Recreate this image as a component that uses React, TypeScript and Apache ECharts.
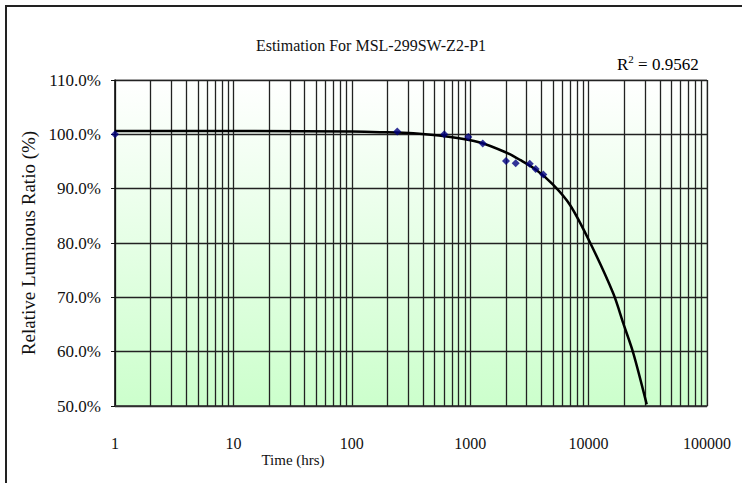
import React, { useEffect, useRef } from "react";
import * as echarts from "echarts";

const titleText = "Estimation For MSL-299SW-Z2-P1";
const r2Text = "0.9562";
const xLabel = "Time (hrs)";
const yLabel = "Relative Luminous Ratio (%)";

// measured points (hours, % relative luminous ratio)
const hours = [1, 242, 604, 964, 1276, 2006, 2423, 3183, 3574, 4144];
const ratio = [100.0, 100.5, 100.0, 99.5, 98.3, 95.1, 94.7, 94.6, 93.6, 92.6];

// trend curve
const curveHours = [1, 15, 100, 173, 331, 633, 1210, 2040, 2634, 3645, 5035, 6970, 10280, 16170, 19640, 23880, 30970];
const curveRatio = [100.6, 100.6, 100.5, 100.4, 100.2, 99.6, 98.5, 96.6, 95.3, 93.4, 90.7, 87.0, 80.1, 70.7, 65.2, 59.7, 50.3];

// minor vertical grid positions
const minorGrid = [
  2, 3, 4, 5, 6, 7, 8, 9,
  20, 30, 40, 50, 60, 70, 80, 90,
  200, 300, 400, 500, 600, 700, 800, 900,
  2000, 3000, 4000, 5000, 6000, 7000, 8000, 9000,
  20000, 30000, 40000, 50000, 60000, 70000, 80000, 90000,
];

const FONT = "Liberation Serif";

export default function App() {
  const ref = useRef<HTMLDivElement>(null);
  useEffect(() => {
    if (!ref.current) return;
    const chart = echarts.init(ref.current, null, { renderer: "svg" });
    const gridColor = "#222";
    chart.setOption({
      animation: false,
      backgroundColor: "#fff",
      title: {
        text: titleText,
        left: "center",
        top: 32,
        textStyle: { fontFamily: FONT, fontSize: 16, fontWeight: "normal", color: "#111" },
      },
      grid: {
        left: 115,
        top: 80,
        width: 592,
        height: 326,
        show: true,
        borderColor: "#999",
        borderWidth: 1,
        backgroundColor: new echarts.graphic.LinearGradient(0, 0, 0, 1, [
          { offset: 0, color: "#ffffff" },
          { offset: 1, color: "#ccffcc" },
        ]),
      },
      xAxis: {
        type: "log",
        logBase: 10,
        min: 1,
        max: 100000,
        axisLine: { show: true, lineStyle: { color: "#333", width: 1.5 } },
        axisTick: { show: false },
        axisLabel: {
          margin: 29,
          fontFamily: FONT,
          fontSize: 16,
          color: "#111",
          formatter: (v: number) => String(Math.round(v)),
        },
        splitLine: { show: true, lineStyle: { color: gridColor, width: 1.3 } },
        minorTick: { show: false },
        minorSplitLine: { show: false },
      },
      yAxis: {
        type: "value",
        min: 50,
        max: 110,
        interval: 10,
        name: yLabel,
        nameLocation: "middle",
        nameGap: 72,
        nameTextStyle: { fontFamily: FONT, fontSize: 19, color: "#111" },
        axisLine: { show: true, lineStyle: { color: "#111", width: 1.5 } },
        axisTick: { show: true, length: 4, lineStyle: { color: "#111" } },
        axisLabel: {
          margin: 14,
          fontFamily: FONT,
          fontSize: 17,
          color: "#111",
          formatter: (v: number) => v.toFixed(1) + "%",
        },
        splitLine: { show: true, lineStyle: { color: gridColor, width: 1.3 } },
      },
      graphic: [
        {
          type: "text",
          left: 617,
          top: 53,
          style: {
            text: "{a|R}{s|2}{a| = " + r2Text + "}",
            rich: {
              a: { fontFamily: FONT, fontSize: 17, color: "#111", verticalAlign: "bottom" },
              s: { fontFamily: FONT, fontSize: 11, color: "#111", verticalAlign: "top", padding: [0, 0, 9, 0] },
            },
          },
        },
        {
          type: "text",
          x: 293,
          y: 460,
          style: {
            text: xLabel,
            fontFamily: FONT,
            fontSize: 15,
            fill: "#111",
            textAlign: "center",
            textVerticalAlign: "middle",
          },
        },
      ],
      series: [
        {
          type: "line",
          data: curveHours.map((h, i) => [h, curveRatio[i]]),
          showSymbol: false,
          smooth: 0.3,
          lineStyle: { color: "#000", width: 2.5 },
          z: 3,
          markLine: {
            silent: true,
            symbol: "none",
            label: { show: false },
            lineStyle: { color: gridColor, width: 1.3, type: "solid" },
            data: minorGrid.map((v) => ({ xAxis: v })),
            z: 1,
          },
        },
        {
          type: "scatter",
          data: hours.map((h, i) => [h, ratio[i]]),
          symbol: "diamond",
          symbolSize: 8,
          itemStyle: { color: "#000080" },
          z: 4,
        },
      ],
    });
    return () => chart.dispose();
  }, []);
  return (
    <div style={{ position: "fixed", left: 0, top: 0, width: 742, height: 483, background: "#fff" }}>
      <div ref={ref} style={{ position: "absolute", left: 0, top: 0, width: 742, height: 483 }} />
      <div
        style={{
          position: "absolute",
          left: 5,
          top: 5,
          width: 740,
          height: 480,
          borderLeft: "2px solid #222",
          borderTop: "2px solid #222",
          pointerEvents: "none",
        }}
      />
    </div>
  );
}
